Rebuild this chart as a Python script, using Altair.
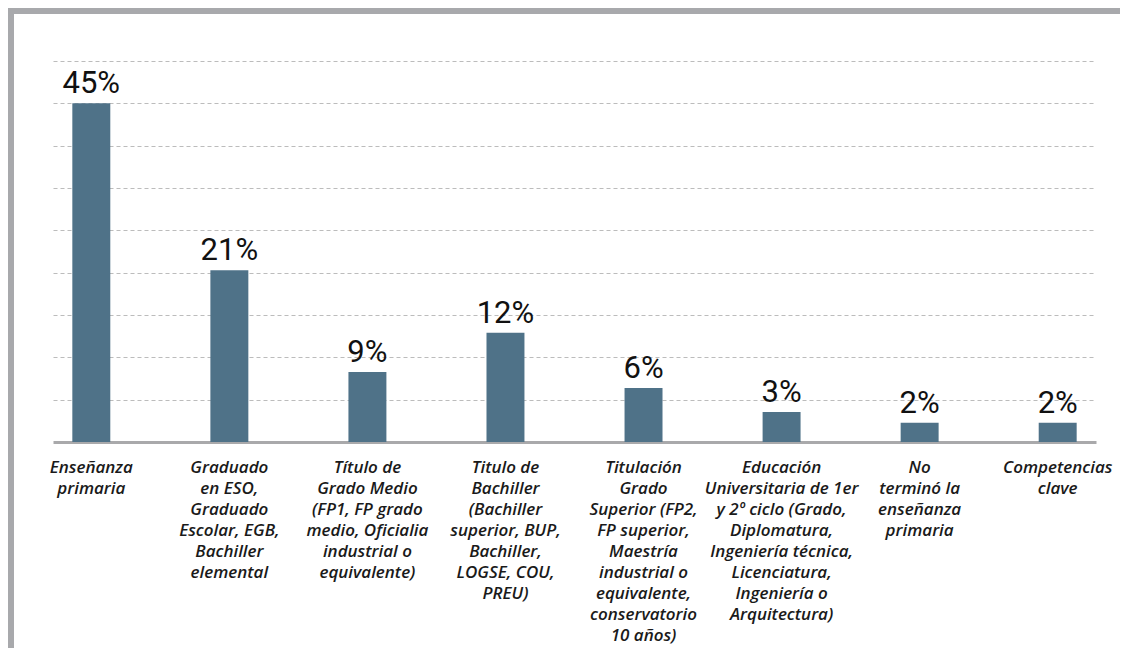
import altair as alt
import pandas as pd

categories = [
    "Enseñanza|primaria",
    "Graduado|en ESO,|Graduado|Escolar, EGB,|Bachiller|elemental",
    "Título de|Grado Medio|(FP1, FP grado|medio, Oficialia|industrial o|equivalente)",
    "Titulo de|Bachiller|(Bachiller|superior, BUP,|Bachiller,|LOGSE, COU,|PREU)",
    "Titulación|Grado|Superior (FP2,|FP superior,|Maestría|industrial o|equivalente,|conservatorio|10 años)",
    "Educación|Universitaria de 1er|y 2º ciclo (Grado,|Diplomatura,|Ingeniería técnica,|Licenciatura,|Ingeniería o|Arquitectura)",
    "No|terminó la|enseñanza|primaria",
    "Competencias|clave",
]
# bar heights as drawn (in gridline units of 5)
bar_values = [40.0, 20.3, 8.26, 12.9, 6.37, 3.54, 2.28, 2.28]
value_labels = ["45%", "21%", "9%", "12%", "6%", "3%", "2%", "2%"]
grid_values = [5, 10, 15, 20, 25, 30, 35, 40, 45]

df = pd.DataFrame({"cat": categories, "val": bar_values, "lab": value_labels})

x_enc = alt.X(
    "cat:N",
    sort=categories,
    title=None,
    scale=alt.Scale(paddingInner=0.725, paddingOuter=0.14),
    axis=alt.Axis(
        labelExpr="split(datum.value, '|')",
        labelAngle=0,
        labelFont="Open Sans",
        labelFontStyle="italic",
        labelFontWeight=600,
        labelFontSize=17,
        labelLineHeight=21,
        labelColor="#1a1a1a",
        labelPadding=17,
        labelLimit=300,
        labelBaseline="top",
        ticks=False,
        domainColor="#a9a9ab",
        domainWidth=3,
        grid=False,
    ),
)
y_enc = alt.Y(
    "val:Q",
    title=None,
    scale=alt.Scale(domain=[0, 45], nice=False, zero=True),
    axis=alt.Axis(
        values=grid_values,
        labels=False,
        ticks=False,
        domain=False,
        grid=True,
        gridDash=[4, 3],
        gridColor="#bcbcbc",
        gridWidth=1.2,
    ),
)

bars = alt.Chart(df).mark_bar(color="#4f7288").encode(x=x_enc, y=y_enc)
texts = alt.Chart(df).mark_text(
    font="Roboto", fontSize=31, dy=-10, baseline="alphabetic", color="#111111"
).encode(x=alt.X("cat:N", sort=categories), y="val:Q", text="lab:N")

frame_df = pd.DataFrame({"k": [0]})
left_border = alt.Chart(frame_df).mark_rule(color="#a8a9ac", strokeWidth=6).encode(
    x=alt.value(-42), y=alt.value(-53), y2=alt.value(640)
)
top_border = alt.Chart(frame_df).mark_rule(color="#a8a9ac", strokeWidth=6).encode(
    x=alt.value(-45), x2=alt.value(1070), y=alt.value(-50)
)

chart = (
    alt.layer(bars, texts, left_border, top_border)
    .properties(
        width=1043,
        height=381,
        autosize=alt.AutoSizeParams(type="none"),
        padding={"left": 45, "top": 53, "right": 24, "bottom": 206},
        background="white",
    )
    .configure_view(stroke=None)
)

chart.save("out.html", embed_options={"renderer": "svg", "actions": False})
